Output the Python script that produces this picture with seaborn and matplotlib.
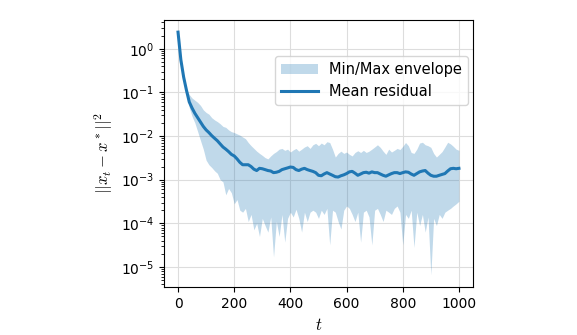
import numpy as np
import seaborn as sns
import matplotlib
matplotlib.use('Agg')
import matplotlib.pyplot as plt

# iteration index (every 10th step)
t = np.arange(0, 1001, 10)

mean_residual = [
    2.40, 0.562, 0.224, 0.112, 0.0603, 0.0437, 0.0331, 0.0263, 0.0209, 0.0166,
    0.0138, 0.0120, 0.0102, 0.0089, 0.0078, 0.0066, 0.0056, 0.0050, 0.0044, 0.0038,
    0.0035, 0.0030, 0.0025, 0.0022, 0.0022, 0.0022, 0.0020, 0.00174, 0.00162, 0.00182,
    0.00178, 0.00170, 0.00162, 0.00158, 0.00145, 0.00148, 0.00155, 0.00170, 0.00178, 0.00186,
    0.00195, 0.00191, 0.00170, 0.00162, 0.00174, 0.00182, 0.00170, 0.00162, 0.00155, 0.00145,
    0.00126, 0.00123, 0.00135, 0.00145, 0.00135, 0.00126, 0.00117, 0.00115, 0.00123, 0.00129,
    0.00138, 0.00151, 0.00155, 0.00141, 0.00126, 0.00135, 0.00145, 0.00148, 0.00141, 0.00151,
    0.00145, 0.00145, 0.00135, 0.00126, 0.00120, 0.00129, 0.00138, 0.00145, 0.00145, 0.00138,
    0.00145, 0.00151, 0.00148, 0.00135, 0.00126, 0.00138, 0.00151, 0.00158, 0.00162, 0.00141,
    0.00126, 0.00120, 0.00120, 0.00126, 0.00132, 0.00138, 0.00158, 0.00178, 0.00182, 0.00178,
    0.00182,
]

max_residual = [
    2.40, 0.562, 0.224, 0.120, 0.0891, 0.0741, 0.0661, 0.0589, 0.0501, 0.0398,
    0.0347, 0.0316, 0.0263, 0.0234, 0.0214, 0.0191, 0.0166, 0.0158, 0.0138, 0.0126,
    0.0120, 0.0112, 0.0105, 0.0095, 0.0087, 0.0071, 0.0060, 0.0052, 0.0045, 0.0040,
    0.0036, 0.0032, 0.0030, 0.0035, 0.0040, 0.0044, 0.0050, 0.0052, 0.0047, 0.0050,
    0.0043, 0.0048, 0.0052, 0.0045, 0.0050, 0.0056, 0.0060, 0.0052, 0.0063, 0.0068,
    0.0060, 0.0069, 0.0063, 0.0074, 0.0071, 0.0050, 0.0033, 0.0040, 0.0045, 0.0040,
    0.0043, 0.0038, 0.0035, 0.0042, 0.0046, 0.0042, 0.0047, 0.0042, 0.0045, 0.0050,
    0.0056, 0.0063, 0.0055, 0.0045, 0.0038, 0.0050, 0.0043, 0.0047, 0.0052, 0.0049,
    0.0058, 0.0071, 0.0060, 0.0042, 0.0040, 0.0050, 0.0069, 0.0072, 0.0063, 0.0060,
    0.0055, 0.0040, 0.0033, 0.0038, 0.0044, 0.0056, 0.0072, 0.0066, 0.0058, 0.0050,
    0.0047,
]

min_residual = [
    2.40, 0.562, 0.209, 0.100, 0.0447, 0.0282, 0.0200, 0.0126, 0.0079, 0.0050,
    0.0028, 0.0022, 0.0019, 0.0016, 0.0014, 1.0e-3, 8.9e-4, 4.5e-4, 6.3e-4, 5.0e-4,
    2.8e-4, 3.5e-4, 2.0e-4, 1.8e-4, 2.2e-4, 1.1e-4, 1.6e-4, 7.1e-5, 1.0e-4, 5.0e-5,
    1.3e-4, 8.9e-5, 6.3e-5, 1.4e-4, 1.7e-5, 1.1e-4, 5.0e-5, 1.6e-4, 3.7e-5, 1.3e-4,
    1.8e-4, 1.4e-4, 2.1e-4, 1.3e-4, 6.3e-5, 1.8e-4, 1.1e-4, 1.8e-4, 2.0e-4, 1.8e-4,
    1.3e-4, 2.0e-4, 1.6e-4, 2.2e-4, 3.2e-5, 2.0e-4, 1.8e-4, 1.1e-4, 7.4e-5, 2.0e-4,
    2.5e-4, 2.2e-4, 1.6e-4, 1.1e-4, 1.8e-4, 3.7e-5, 1.8e-4, 2.0e-4, 1.4e-4, 3.2e-5,
    2.0e-4, 2.2e-4, 1.6e-4, 1.1e-4, 2.0e-4, 1.8e-4, 1.6e-4, 2.2e-4, 2.5e-4, 1.8e-4,
    3.2e-5, 1.6e-4, 1.3e-4, 2.0e-4, 2.8e-5, 1.8e-4, 8.9e-5, 1.6e-4, 6.3e-5, 1.4e-4,
    6.6e-6, 1.3e-4, 8.9e-5, 1.6e-4, 1.3e-4, 1.8e-4, 2.0e-4, 2.2e-4, 2.5e-4, 2.8e-4,
    3.2e-4,
]

plt.rcParams['mathtext.fontset'] = 'cm'

fig = plt.figure(figsize=(5.77, 3.35), dpi=100)
ax = fig.add_axes([0.2842, 0.1433, 0.5355, 0.797])

ax.fill_between(t, min_residual, max_residual, color='C0', alpha=0.28,
                linewidth=0, label='Min/Max envelope')
sns.lineplot(x=t, y=mean_residual, ax=ax, color='C0', linewidth=2.2,
             label='Mean residual')

ax.set_yscale('log')
ax.set_xlabel('$t$', fontsize=12)
ax.set_ylabel(r'$||x_t - x^*||^2$', fontsize=12)
ax.grid(True, color='#dddddd', linewidth=0.8)
ax.set_axisbelow(True)
ax.legend(loc='upper right', bbox_to_anchor=(1.008, 0.892),
          fontsize=10.5, handlelength=2.5)

fig.savefig('out.png', dpi=100)
